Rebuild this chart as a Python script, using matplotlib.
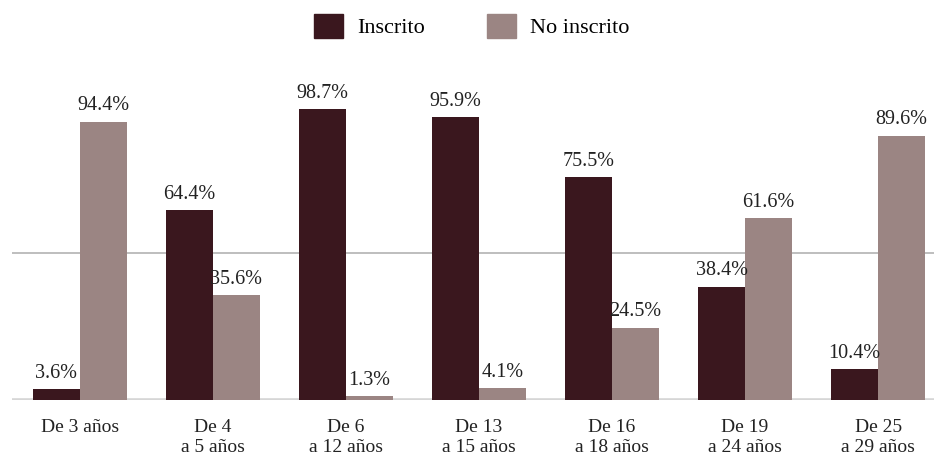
import matplotlib.pyplot as plt
from matplotlib.patches import Patch
import numpy as np

# Population by age group: enrolled vs not enrolled (%)
categories = ['De 3 años', 'De 4\na 5 años', 'De 6\na 12 años', 'De 13\na 15 años',
              'De 16\na 18 años', 'De 19\na 24 años', 'De 25\na 29 años']
inscrito = [3.6, 64.4, 98.7, 95.9, 75.5, 38.4, 10.4]
no_inscrito = [94.4, 35.6, 1.3, 4.1, 24.5, 61.6, 89.6]

dark = '#3a171e'
light = '#9b8583'

plt.rcParams['font.family'] = ['Liberation Serif', 'DejaVu Serif']

fig = plt.figure(figsize=(9.34, 4.61), dpi=100)
ax = fig.add_axes([12 / 934, 61 / 461, 922 / 934, 295 / 461])

x = np.arange(len(categories))
w = 47 / 133
b1 = ax.bar(x - w / 2, inscrito, width=w, color=dark, zorder=3)
b2 = ax.bar(x + w / 2, no_inscrito, width=w, color=light, zorder=3)

for bars, vals in ((b1, inscrito), (b2, no_inscrito)):
    for rect, v in zip(bars, vals):
        ax.annotate(f'{v:.1f}%', (rect.get_x() + rect.get_width() / 2, v),
                    xytext=(0, 4.5), textcoords='offset points',
                    ha='center', va='bottom', fontsize=14.5, color='#222222')

ax.axhline(50, color='#b3b3b3', lw=1.2, zorder=1)
ax.axhline(0, color='#d6d6d6', lw=2.6, zorder=2)

ax.set_xlim(-0.51, 6.42)
ax.set_ylim(0, 100)
ax.set_xticks(x)
ax.set_xticklabels(categories, fontsize=14, color='#222222', linespacing=1.2)
ax.tick_params(axis='x', length=0, pad=14)
ax.set_yticks([])
for s in ax.spines.values():
    s.set_visible(False)

handles = [Patch(color=dark, label='Inscrito'), Patch(color=light, label='No inscrito')]
fig.legend(handles=handles, loc='center', bbox_to_anchor=(0.505, 0.944), ncol=2,
           frameon=False, fontsize=16, handlelength=1.3, handleheight=1.3,
           handletextpad=0.65, columnspacing=2.8)

fig.savefig('out.png', dpi=100)
